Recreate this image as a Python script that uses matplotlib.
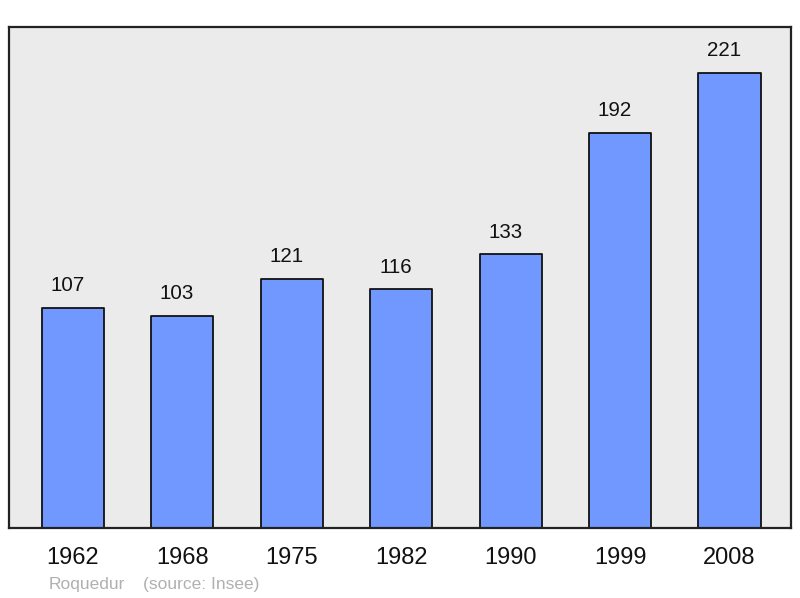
import matplotlib.pyplot as plt

plt.rcParams["font.family"] = ["Liberation Sans", "DejaVu Sans"]

years = ["1962", "1968", "1975", "1982", "1990", "1999", "2008"]
population = [107, 103, 121, 116, 133, 192, 221]

BAR_COLOR = "#7098ff"
BG_COLOR = "#ebebeb"

fig = plt.figure(figsize=(8.0, 5.98), dpi=100)
ax = fig.add_axes([0.01125, 0.117, 0.9775, 0.8378])
ax.set_facecolor(BG_COLOR)

xs = list(range(len(years)))
bars = ax.bar(xs, population, width=0.567, color=BAR_COLOR,
              edgecolor="#111111", linewidth=1.3, zorder=2)
for b in bars:
    b.set_joinstyle("round")

# value labels sit a little left of the bar centre in the original
for x, v in zip(xs, population):
    ax.annotate(str(v), xy=(x, v), xytext=(-4, 9), textcoords="offset points",
                ha="center", va="bottom", fontsize=14.8, color="#111111")

ax.set_xlim(-0.585, len(years) - 1 + 0.562)
ax.set_ylim(0, 243.3)
ax.set_xticks([])
ax.set_yticks([])
for s in ax.spines.values():
    s.set_linewidth(1.6)
    s.set_color("#222222")

for x, y in zip(xs, years):
    ax.text(x, -0.06, y, transform=ax.get_xaxis_transform(),
            ha="center", va="center", fontsize=17, color="#111111")

fig.text(49 / 800, 1 - 584 / 598, "Roquedur", fontsize=12.5, color="#b0b0b0",
         ha="left", va="center")
fig.text(143 / 800, 1 - 584 / 598, "(source: Insee)", fontsize=12.5,
         color="#b0b0b0", ha="left", va="center")

fig.savefig("out.png", dpi=100)
